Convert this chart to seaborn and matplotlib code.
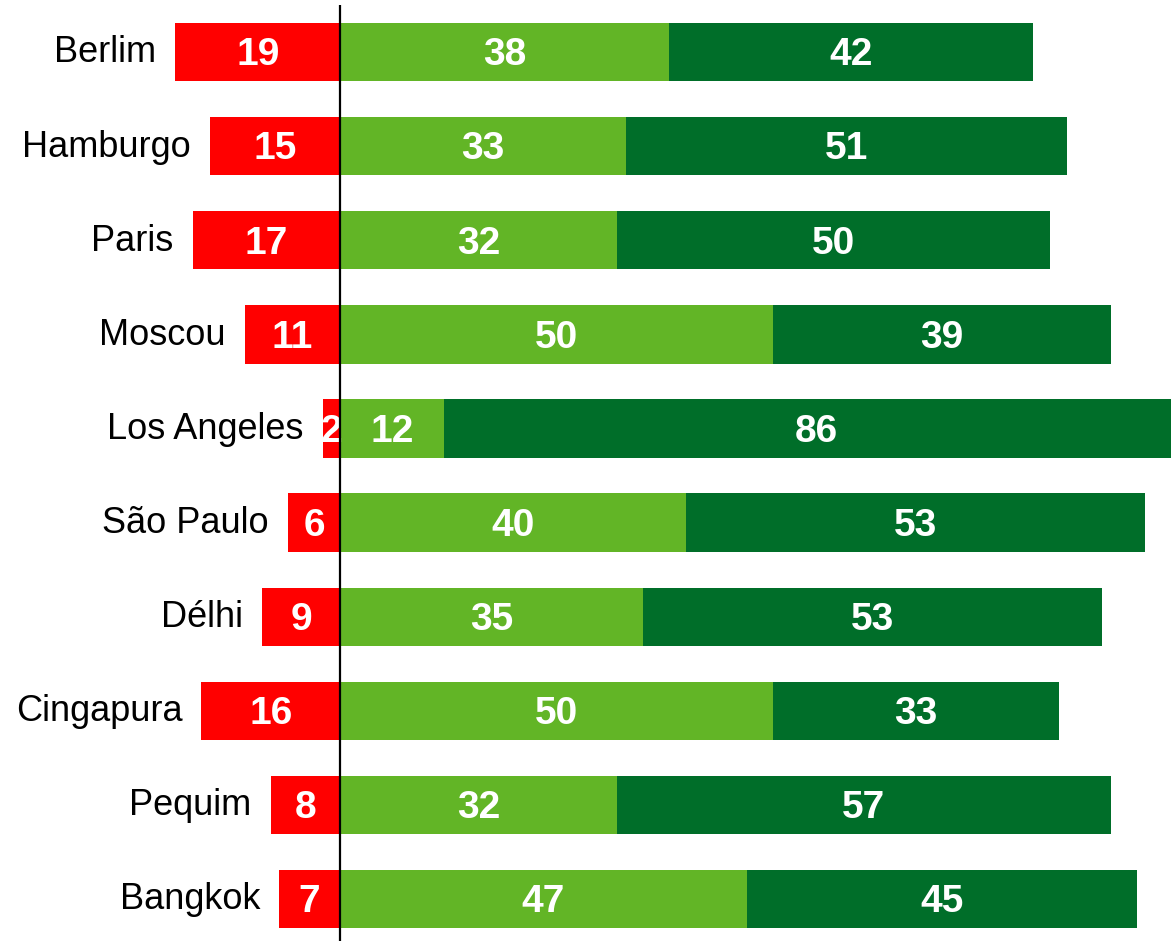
import pandas as pd
import matplotlib.pyplot as plt
import seaborn as sns

sns.set_theme(style="white")
plt.rcParams["font.family"] = ["Liberation Sans", "DejaVu Sans"]

# data
cities = ["Berlim", "Hamburgo", "Paris", "Moscou", "Los Angeles",
          "São Paulo", "Délhi", "Cingapura", "Pequim", "Bangkok"]
negative = [19, 15, 17, 11, 2, 6, 9, 16, 8, 7]
light = [38, 33, 32, 50, 12, 40, 35, 50, 32, 47]
dark = [42, 51, 50, 39, 86, 53, 53, 33, 57, 45]

df = pd.DataFrame({"city": cities, "neg": negative, "light": light, "dark": dark})
df["total"] = df["light"] + df["dark"]
df["neg_x"] = -df["neg"]

RED = "#FF0000"
LGREEN = "#62B526"
DGREEN = "#006E29"
bw = 0.62

fig = plt.figure(figsize=(11.71, 9.41), dpi=100)
ax = fig.add_axes([0, 0, 1, 1])

sns.barplot(data=df, x="total", y="city", color=DGREEN, width=bw,
            linewidth=0, saturation=1, errorbar=None, orient="h", ax=ax)
sns.barplot(data=df, x="light", y="city", color=LGREEN, width=bw,
            linewidth=0, saturation=1, errorbar=None, orient="h", ax=ax)
sns.barplot(data=df, x="neg_x", y="city", color=RED, width=bw,
            linewidth=0, saturation=1, errorbar=None, orient="h", ax=ax)

numFS = 28
dy = 0.035
for i, row in df.iterrows():
    ax.text(-row["neg"] / 2, i + dy, str(row["neg"]), color="white", fontsize=numFS,
            fontweight="bold", ha="center", va="center")
    ax.text(row["light"] / 2, i + dy, str(row["light"]), color="white", fontsize=numFS,
            fontweight="bold", ha="center", va="center")
    ax.text(row["light"] + row["dark"] / 2, i + dy, str(row["dark"]), color="white",
            fontsize=numFS, fontweight="bold", ha="center", va="center")
    # city name to the left of the red bar
    ax.text(-row["neg"] - 2.2, i + 0.01, row["city"], color="black", fontsize=26,
            ha="right", va="center")

ax.vlines(0, -0.5, 9.6, color="black", lw=1.6, zorder=5)

ax.set_xlim(-39.26, 95.96)
ax.set_ylim(9.446, -0.553)
ax.set_xlabel("")
ax.set_ylabel("")
ax.set_xticks([])
ax.set_yticks([])
for s in ax.spines.values():
    s.set_visible(False)

fig.savefig("out.png", dpi=100)
